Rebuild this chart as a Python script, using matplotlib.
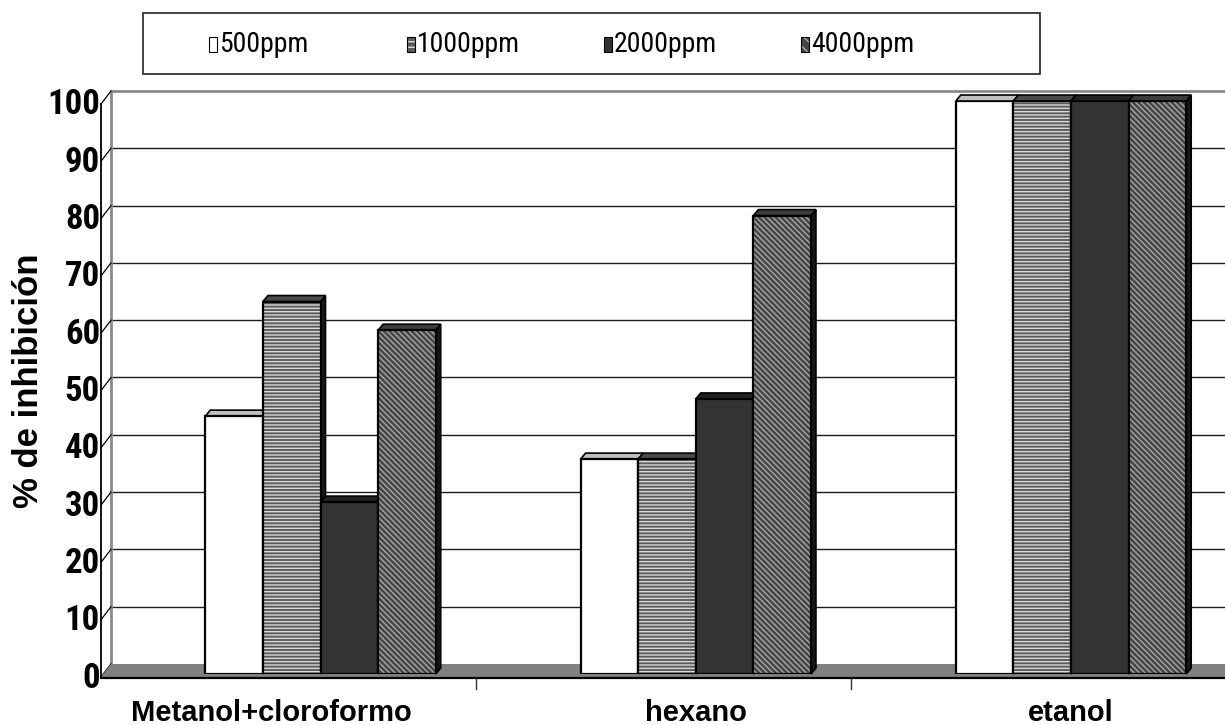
import matplotlib
matplotlib.use('Agg')
import matplotlib.pyplot as plt
from matplotlib import font_manager as fm
from matplotlib.patches import Polygon, Rectangle
import matplotlib.transforms as mtransforms

# ---------------- data ----------------
categories = ['Metanol+cloroformo', 'hexano', 'etanol']
series_names = ['500ppm', '1000ppm', '2000ppm', '4000ppm']
v500 = [45, 37.5, 100]
v1000 = [65, 37.5, 100]
v2000 = [30, 48, 100]
v4000 = [60, 80, 100]
yticks = [0, 10, 20, 30, 40, 50, 60, 70, 80, 90, 100]
ylabel = '% de inhibición'
series_values = [v500, v1000, v2000, v4000]

# ---------------- fonts ----------------
names = {f.name for f in fm.fontManager.ttflist}
base_font = 'Liberation Sans' if 'Liberation Sans' in names else 'DejaVu Sans'
cond_font, cond_stretch = base_font, 'normal'
for n in ['Liberation Sans Narrow', 'Roboto Condensed', 'Open Sans Condensed', 'DejaVu Sans Condensed']:
    if n in names:
        cond_font = n
        break
else:
    for f in fm.fontManager.ttflist:
        if f.name == 'DejaVu Sans' and str(f.stretch) in ('condensed', 'semi-condensed'):
            cond_font, cond_stretch = 'DejaVu Sans', 'condensed'
            break

# ---------------- figure geometry ----------------
W, H = 1225, 725
fig = plt.figure(figsize=(W / 100, H / 100), dpi=100)
ax_left_px, ax_y0_px, ax_h_px = 103, 674, 573
ax = fig.add_axes([ax_left_px / W, (H - ax_y0_px) / H, (W - ax_left_px) / W, ax_h_px / H])
ax.axis('off')

px_per_cat = 375.25
x0 = (ax_left_px - 320.5) / px_per_cat
x1 = x0 + (W - ax_left_px) / px_per_cat
ax.set_xlim(x0, x1)
ax.set_ylim(0, 100)

sx = 1 / px_per_cat          # data units per pixel (x)
sy = 100 / ax_h_px           # data units per pixel (y)

# planes (offsets in pixels relative to the bar plane)
BACK = (8, 10)
FRONT = (-2, -3)

def P(x, y, off):
    return (x + off[0] * sx, y + off[1] * sy)

# back wall gridlines
xr = x1 + 20 * sx
for v in yticks[1:-1]:
    a, b = P(x0, v, BACK), P(xr, v, BACK)
    ax.plot([a[0], b[0]], [a[1], b[1]], color='#1a1a1a', lw=1.0, clip_on=False, zorder=1)
a, b = P(x0, 100, BACK), P(xr, 100, BACK)
ax.plot([a[0], b[0]], [a[1], b[1]], color='#8a8a8a', lw=2.0, clip_on=False, zorder=1)
a, b = P(x0, 0, BACK), P(x0, 100, BACK)
ax.plot([a[0], b[0]], [a[1], b[1]], color='#8a8a8a', lw=2.0, clip_on=False, zorder=1)

# side wall slanted ticks
for v in yticks:
    a, b = P(x0, v, FRONT), P(x0, v, BACK)
    ax.plot([a[0], b[0]], [a[1], b[1]], color='black', lw=0.9, clip_on=False, zorder=1)
a, b = P(x0, 0, FRONT), P(x0, 100, FRONT)
ax.plot([a[0], b[0]], [a[1], b[1]], color='black', lw=1.3, clip_on=False, zorder=2)

# floor
floor = Polygon([P(x0, 0, FRONT), P(x0, 0, BACK), P(xr, 0, BACK), P(xr, 0, FRONT)],
                closed=True, facecolor='#808080', edgecolor='none', clip_on=False, zorder=1)
ax.add_patch(floor)
a, b = P(x0, 0, FRONT), P(xr, 0, FRONT)
ax.plot([a[0], b[0]], [a[1] - 1 * sy, b[1] - 1 * sy], color='black', lw=1.6, clip_on=False, zorder=2)

# category ticks
for t in [0.42, 1.42]:
    a = P(t, 0, FRONT)
    ax.plot([a[0], a[0]], [a[1] - 1 * sy, a[1] - 12 * sy], color='#333333', lw=1.0, clip_on=False, zorder=2)

# ---------------- bars ----------------
bw = 57.6 / px_per_cat
styles = [
    dict(face='white', hatch=None, hcol=None, top='#c0c0c0', side='#808080'),
    dict(face='#5c5c5c', hatch='-----', hcol='#d8d8d8', top='#4a4a4a', side='#1a1a1a'),
    dict(face='#333333', hatch=None, hcol=None, top='#222222', side='#111111'),
    dict(face='#454545', hatch='\\\\\\\\\\\\', hcol='#a8a8a8', top='#3c3c3c', side='#161616'),
]
plt.rcParams['hatch.linewidth'] = 1.0
DD = (5, 6)
z = 3
for i in range(len(categories)):
    start = i - 2 * bw
    for s, vals in enumerate(series_values):
        st = styles[s]
        xl = start + s * bw
        v = vals[i]
        side = Polygon([(xl + bw, 0), P(xl + bw, 0, DD), P(xl + bw, v, DD), (xl + bw, v)],
                       closed=True, facecolor=st['side'], edgecolor='black', lw=1.2,
                       zorder=z, clip_on=False)
        ax.add_patch(side)
        top = Polygon([(xl, v), (xl + bw, v), P(xl + bw, v, DD), P(xl, v, DD)],
                      closed=True, facecolor=st['top'], edgecolor='black', lw=1.2,
                      zorder=z, clip_on=False)
        ax.add_patch(top)
        if st['hatch']:
            ax.bar(xl, v, width=bw, align='edge', color=st['face'], hatch=st['hatch'],
                   edgecolor=st['hcol'], lw=0, zorder=z + 0.1)
        ax.bar(xl, v, width=bw, align='edge', color=st['face'] if not st['hatch'] else 'none',
               edgecolor='black', lw=1.6, zorder=z + 0.2)
        z += 1

# ---------------- texts ----------------
for v in yticks:
    px, py = P(x0, v, FRONT)
    ax.text(px - 1 * sx, py - 1 * sy, str(v), ha='right', va='center', fontsize=25,
            fontweight='bold', family=cond_font, fontstretch=cond_stretch, clip_on=False)

label_x = [271 / W, 696 / W, 1071 / W]
for i, c in enumerate(categories):
    fig.text(label_x[i], 1 - 720.7 / H, c, ha='center', va='baseline', fontsize=21,
             fontweight='bold', family=base_font)

fig.text(29 / W, 1 - 381 / H, ylabel, rotation=90, ha='center', va='center',
         fontsize=25, fontweight='bold', family=base_font)

# ---------------- legend ----------------
def fx(px):
    return px / W

def fy(py):
    return 1 - py / H

leg = Rectangle((fx(143), fy(74)), fx(1040) - fx(143), fy(13) - fy(74), transform=fig.transFigure,
                facecolor='white', edgecolor='#333333', lw=1.3)
fig.patches.append(leg)
leg_x = [209, 407, 604, 801]
for s, name in enumerate(series_names):
    st = styles[s]
    xs = leg_x[s]
    if st['hatch']:
        fig.patches.append(Rectangle((fx(xs), fy(52)), fx(8), 15 / H, transform=fig.transFigure,
                                     facecolor=st['face'], hatch='---' if s == 1 else '\\\\\\',
                                     edgecolor=st['hcol'], lw=0))
    fig.patches.append(Rectangle((fx(xs), fy(52)), fx(8), 15 / H, transform=fig.transFigure,
                                 facecolor=st['face'] if not st['hatch'] else 'none',
                                 edgecolor='black', lw=0.8))
    fig.text(fx(xs + 10), fy(45), name, ha='left', va='center', fontsize=20,
             family=cond_font, fontstretch=cond_stretch)

fig.savefig('out.png', dpi=100)
